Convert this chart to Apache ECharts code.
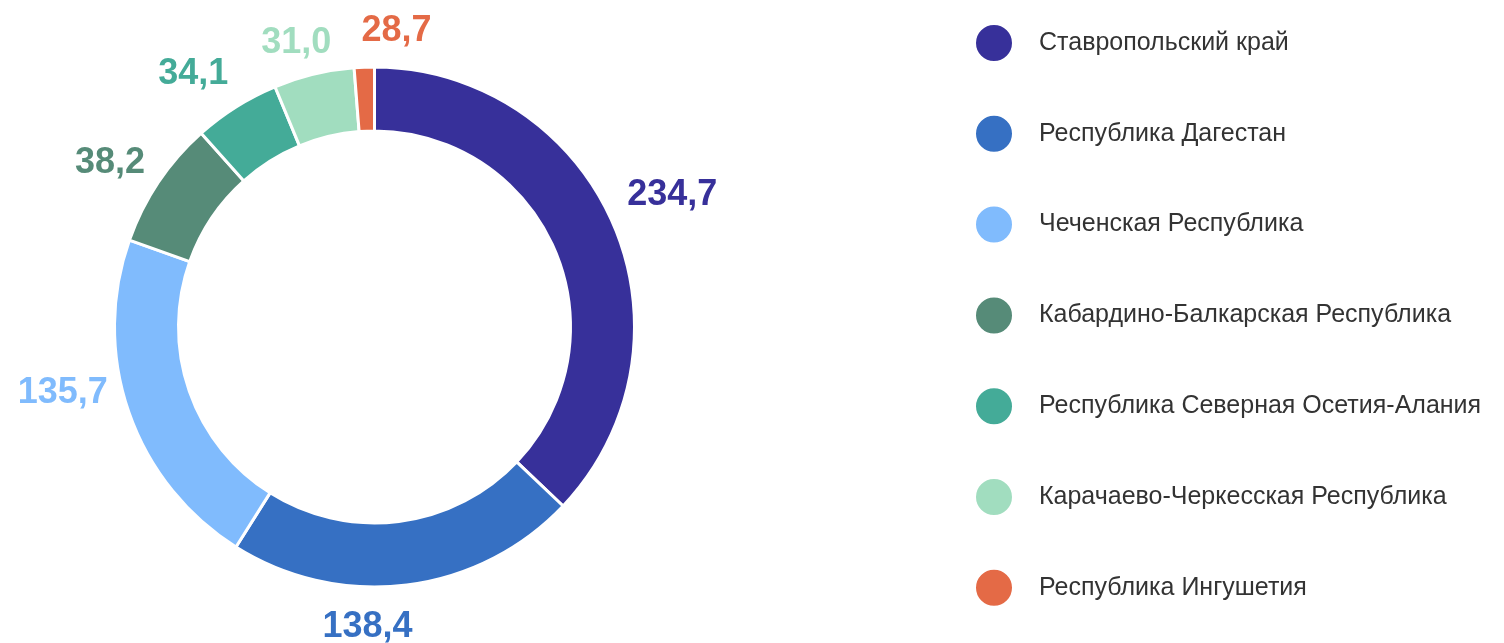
<!DOCTYPE html>
<html>
<head>
    <meta charset="UTF-8">
    <title>Северо-Кавказский федеральный округ</title>
    <script src="https://cdn.jsdelivr.net/npm/echarts/dist/echarts.min.js"></script>
    <style>
        html, body { margin: 0; padding: 0; background: #fff; }
        #main { width: 1504px; height: 643px; }
    </style>
</head>
<body>
    <div id="main"></div>
    <script type="text/javascript">
        // regions in legend / ring order (clockwise from 12 o'clock)
        var regions = [
            'Ставропольский край',
            'Республика Дагестан',
            'Чеченская Республика',
            'Кабардино-Балкарская Республика',
            'Республика Северная Осетия-Алания',
            'Карачаево-Черкесская Республика',
            'Республика Ингушетия'
        ];
        // numbers printed next to the ring
        var labelValues = [234.7, 138.4, 135.7, 38.2, 34.1, 31.0, 28.7];
        // arc of each slice as drawn in the picture (degrees)
        var sliceShares = [133.5, 78.7, 77.3, 28.7, 19.3, 18.0, 4.5];
        var colors = ['#37309a', '#3670c3', '#80bbfd', '#568b78', '#44ab98', '#a1ddbf', '#e46a46'];

        // label placement: turn (degrees) from the slice middle and gap (px) off the ring
        var labelTurn = [-0.6, 8.5, 7.1, -2, -3.5, -1.9, 6.5];
        var labelGap = [17, 21, 11, 12, 16, 8, 16];

        var FONT = "'Liberation Sans', Arial, sans-serif";
        var CX = 374.5, CY = 327, R_IN = 196, R_OUT = 260;

        var total = sliceShares.reduce(function (a, b) { return a + b; }, 0);
        var midAngles = [];
        var acc = 0;
        sliceShares.forEach(function (s) {
            midAngles.push((acc + s / 2) / total * 360);
            acc += s;
        });

        var chart = echarts.init(document.getElementById('main'));

        var option = {
            animation: false,
            color: colors,
            legend: {
                orient: 'vertical',
                left: 969,
                top: 18,
                icon: 'circle',
                itemWidth: 80,
                itemHeight: 38,
                itemGap: 50.8,
                selectedMode: false,
                data: regions,
                textStyle: {
                    fontFamily: FONT,
                    fontSize: 25,
                    color: '#333'
                }
            },
            series: [{
                type: 'pie',
                center: [CX, CY],
                radius: [R_IN, R_OUT],
                startAngle: 90,
                clockwise: true,
                avoidLabelOverlap: false,
                itemStyle: {
                    borderColor: '#fff',
                    borderWidth: 3
                },
                emphasis: { disabled: true },
                label: {
                    show: true,
                    position: 'outside',
                    fontFamily: FONT,
                    fontSize: 36,
                    fontWeight: 'bold',
                    formatter: function (p) {
                        return labelValues[p.dataIndex].toFixed(1).replace('.', ',');
                    }
                },
                labelLine: { show: false },
                labelLayout: function (p) {
                    var i = p.dataIndex;
                    var a = (midAngles[i] + labelTurn[i]) * Math.PI / 180;
                    var ux = Math.sin(a), uy = -Math.cos(a);
                    var w = p.labelRect.width, h = p.labelRect.height;
                    var d = R_OUT + labelGap[i] + Math.abs(ux) * w / 2 + Math.abs(uy) * h / 2;
                    return {
                        x: CX + d * ux,
                        y: CY + d * uy,
                        align: 'center',
                        verticalAlign: 'middle'
                    };
                },
                data: regions.map(function (name, i) {
                    return {
                        name: name,
                        value: sliceShares[i],
                        label: { color: colors[i] }
                    };
                })
            }]
        };

        chart.setOption(option);
    </script>
</body>
</html>
